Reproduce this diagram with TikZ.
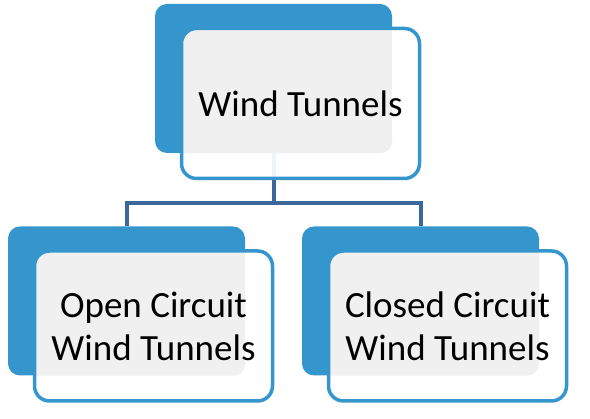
\documentclass[tikz,border=0pt]{standalone}
\usepackage{fontspec}
\setmainfont{Carlito}
\usetikzlibrary{positioning}
\definecolor{wtblue}{RGB}{52,150,204}
\definecolor{wtline}{RGB}{58,104,155}
\definecolor{wtgray}{RGB}{240,240,240}

\begin{document}
\begin{tikzpicture}[
  x=1pt, y=1pt,
  font=\fontsize{37}{43}\selectfont,
  backbox/.style={fill=wtblue, rounded corners=12pt, inner sep=0pt,
                  minimum width=237pt, minimum height=149pt},
  frontbox/.style={draw=wtblue, line width=3.5pt, rounded corners=15pt,
                   fill=white, fill opacity=0.93, text opacity=1,
                   minimum width=238pt, minimum height=150pt,
                   align=center, inner sep=0pt,
                   path picture={\fill[wtgray, fill opacity=1, rounded corners=12pt]
                     (#1.south west) rectangle (#1.north east);}},
  conn/.style={draw=wtline, line width=4pt}
]
\useasboundingbox (0,0) rectangle (590,419);

% ---------------------------------------------- the blue cards behind
\node[backbox] (wtback) at (273.5,340.5) {};
\node[backbox] (openback) at (126.5,118) {};
\node[backbox] (closedback) at (420.5,118) {};

% ---------------------------------------------- the tree lines
\coordinate (wtjoin) at ([yshift=-49.5pt]wtback.south);
\draw[conn] (wtback.south) -- (wtjoin);
\draw[conn] (openback.north) |- (wtjoin) -| (closedback.north);

% ---------------------------------------------- the cards in front
\node[frontbox=wtback] (wt) at ([shift={(27,-25)}]wtback.center) {Wind Tunnels};
\node[frontbox=openback] (open) at ([shift={(27,-25)}]openback.center)
  {Open Circuit\\Wind Tunnels};
\node[frontbox=closedback] (closed) at ([shift={(27,-25)}]closedback.center)
  {Closed Circuit\\Wind Tunnels};

\end{tikzpicture}
\end{document}
